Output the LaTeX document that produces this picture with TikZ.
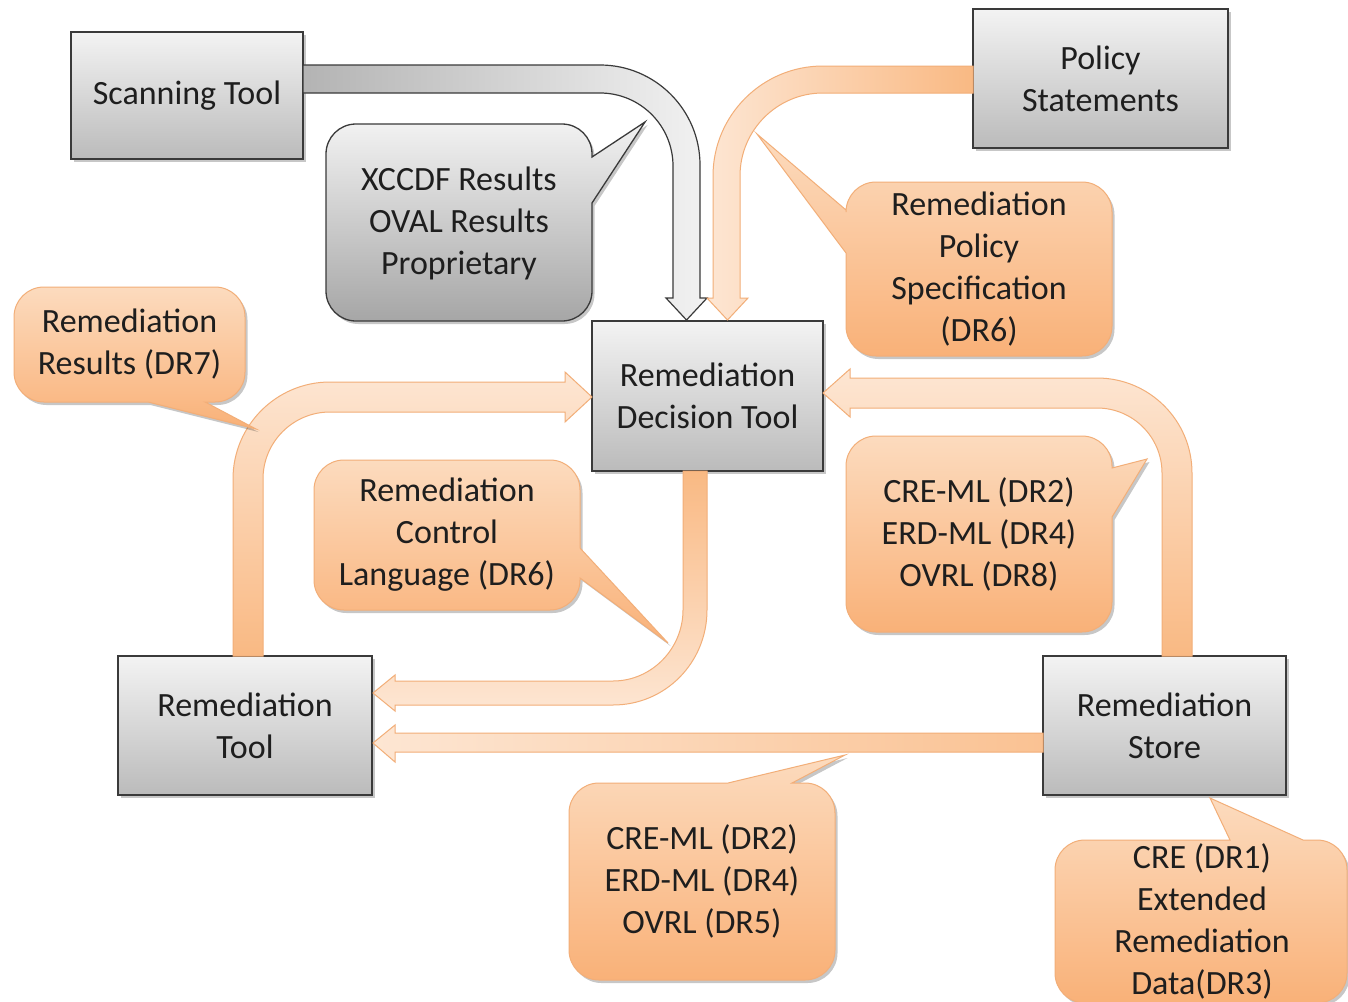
\documentclass[tikz,border=0pt]{standalone}
\usepackage{fontspec}
\setmainfont{Carlito}
\usetikzlibrary{shadows,calc}
\definecolor{boxtop}{HTML}{F3F3F3}
\definecolor{boxbot}{HTML}{BBBBBB}
\definecolor{boxline}{HTML}{3A3A3A}
\definecolor{orlight}{HTML}{FDE6D3}
\definecolor{ordark}{HTML}{F9B983}
\definecolor{orline}{HTML}{F2AE78}
\definecolor{cotop}{HTML}{FCDBBE}
\definecolor{cobot}{HTML}{F9B178}
\definecolor{gtop}{HTML}{F2F2F2}
\definecolor{gbot}{HTML}{A6A6A6}
\definecolor{txt}{HTML}{1E1E1E}
\newcommand{\lbl}{\fontsize{34}{42}\selectfont}
% rounded box with optional pointer inserts: x1 y1 x2 y2 top right bottom left style
\newcommand{\callout}[9]{%
  \path[#9] (#1+30,#2) #5 -- (#3-30,#2) .. controls (#3-13.4,#2) and (#3,#2+13.4) .. (#3,#2+30) #6
  -- (#3,#4-30) .. controls (#3,#4-13.4) and (#3-13.4,#4) .. (#3-30,#4) #7
  -- (#1+30,#4) .. controls (#1+13.4,#4) and (#1,#4-13.4) .. (#1,#4-30) #8
  -- (#1,#2+30) .. controls (#1,#2+13.4) and (#1+13.4,#2) .. (#1+30,#2) -- cycle;}
\tikzset{
  shad/.style={drop shadow={shadow xshift=2.5pt,shadow yshift=-3pt,opacity=0.22,fill=black}},
  box/.style={draw=boxline, line width=1.3pt, top color=boxtop, bottom color=boxbot,
    align=center, font=\lbl, text=txt, inner sep=0pt, shad},
  lbl/.style={align=center, font=\lbl, text=txt, inner sep=0pt},
  ocall/.style={draw=orline, line width=1pt, top color=cotop, bottom color=cobot, shad},
  gcall/.style={draw=boxline, line width=1.3pt, top color=gtop, bottom color=gbot, shad},
  oarrow/.style={draw=orline, line width=1pt},
  garrow/.style={draw=boxline, line width=1.2pt},
}
\begin{document}
\begin{tikzpicture}[x=1pt,y=-1pt]
\useasboundingbox (0,0) rectangle (1348,1001);
\fill[white] (0,0) rectangle (1348,1001);
\clip (0,0) rectangle (1348,1001);

% ---------- boxes ----------
\node[box, minimum width=232pt, minimum height=127pt] (st) at (187,95.5) {Scanning Tool};
\node[box, minimum width=255pt, minimum height=139pt] (ps) at (1100.5,78.5) {Policy\\Statements};
\node[box, minimum width=231pt, minimum height=150pt] (dt) at (707.5,396) {Remediation\\Decision Tool};
\node[box, minimum width=254pt, minimum height=139pt] (rt) at (245,725.5) {Remediation\\Tool};
\node[box, minimum width=243pt, minimum height=139pt] (rs) at (1164.5,725.5) {Remediation\\Store};

% ---------- block arrows ----------
% Scanning Tool -> Decision Tool
\path[garrow, left color=gbot!85, middle color=gtop!95!black, right color=gtop]
  (303,65) -- (600,65) .. controls (655.2,65) and (700,109.8) .. (700,165)
  -- (700,298) -- (707,298) -- (686.5,320) -- (666,298) -- (673,298)
  -- (673,166) .. controls (673,125.7) and (640.3,93) .. (600,93) -- (303,93) -- cycle;
% Policy Statements -> Decision Tool
\path[oarrow, left color=orlight, right color=ordark]
  (973,66) -- (823,66) .. controls (762.25,66) and (713,115.25) .. (713,176)
  -- (713,298) -- (707,298) -- (727.5,320) -- (748,298) -- (740,298)
  -- (740,176) .. controls (740,130.16) and (777.16,93) .. (823,93) -- (973,93) -- cycle;
% Remediation Tool -> Decision Tool
\path[oarrow, top color=orlight, bottom color=ordark]
  (233,656) -- (233,479) .. controls (233,425.43) and (276.43,382) .. (330,382)
  -- (565,382) -- (565,372) -- (592,397) -- (565,422) -- (565,412)
  -- (330,412) .. controls (293,412) and (263,442) .. (263,479) -- (263,656) -- cycle;
% Remediation Store -> Decision Tool
\path[oarrow, top color=orlight, bottom color=ordark]
  (1192,656) -- (1192,473) .. controls (1192,420.53) and (1149.47,378) .. (1097,378)
  -- (850,378) -- (850,369) -- (823,393) -- (850,417) -- (850,408)
  -- (1097,408) .. controls (1132.9,408) and (1162,437.1) .. (1162,473) -- (1162,656) -- cycle;
% Decision Tool -> Remediation Tool
\path[oarrow, top color=ordark, bottom color=orlight]
  (683,471) -- (683,610) .. controls (683,648.66) and (651.66,681) .. (613,681)
  -- (395,681) -- (395,675) -- (373,693) -- (395,711) -- (395,705)
  -- (613,705) .. controls (665.5,705) and (707,662.5) .. (707,610) -- (707,471) -- cycle;
% Remediation Store -> Remediation Tool
\path[oarrow, left color=orlight, right color=ordark!80!orlight]
  (1043,733) -- (395,733) -- (395,725) -- (373,743) -- (395,762) -- (395,752) -- (1043,752) -- cycle;

% ---------- callouts ----------
\callout{326}{124}{592}{321}{}{-- (592,157) -- (645,122) -- (592,203)}{}{}{gcall}
\node[lbl] (c1) at (459,223) {XCCDF Results\\OVAL Results\\Proprietary};

\callout{846}{182}{1112}{356}{}{}{}{-- (846,253) -- (757,134) -- (846,210)}{ocall}
\node[lbl] (c2) at (979,269) {Remediation\\Policy\\Specification\\(DR6)};

\callout{14}{287}{245}{402}{}{}{-- (205,402) -- (256,429) -- (148,402)}{}{ocall}
\node[lbl] (c3) at (129.5,344.5) {Remediation\\Results (DR7)};

\callout{314}{460}{580}{610}{}{-- (580,548) -- (668,643) -- (580,578)}{}{}{ocall}
\node[lbl] (c4) at (447,535) {Remediation\\Control\\Language (DR6)};

\callout{846}{436}{1112}{632}{}{-- (1112,468) -- (1147,459) -- (1112,517)}{}{}{ocall}
\node[lbl] (c5) at (979,534) {CRE-ML (DR2)\\ERD-ML (DR4)\\OVRL (DR8)};

\callout{569}{783}{835}{980}{-- (728,783) -- (845,755) -- (792,783)}{}{}{}{ocall}
\node[lbl] (c6) at (702,881.5) {CRE-ML (DR2)\\ERD-ML (DR4)\\OVRL (DR5)};

\callout{1055}{840}{1347}{1003}{-- (1230,840) -- (1210,798) -- (1303,840)}{}{}{}{ocall}
\node[lbl] (c7) at (1202,921) {CRE (DR1)\\Extended\\Remediation\\Data(DR3)};
\end{tikzpicture}
\end{document}
